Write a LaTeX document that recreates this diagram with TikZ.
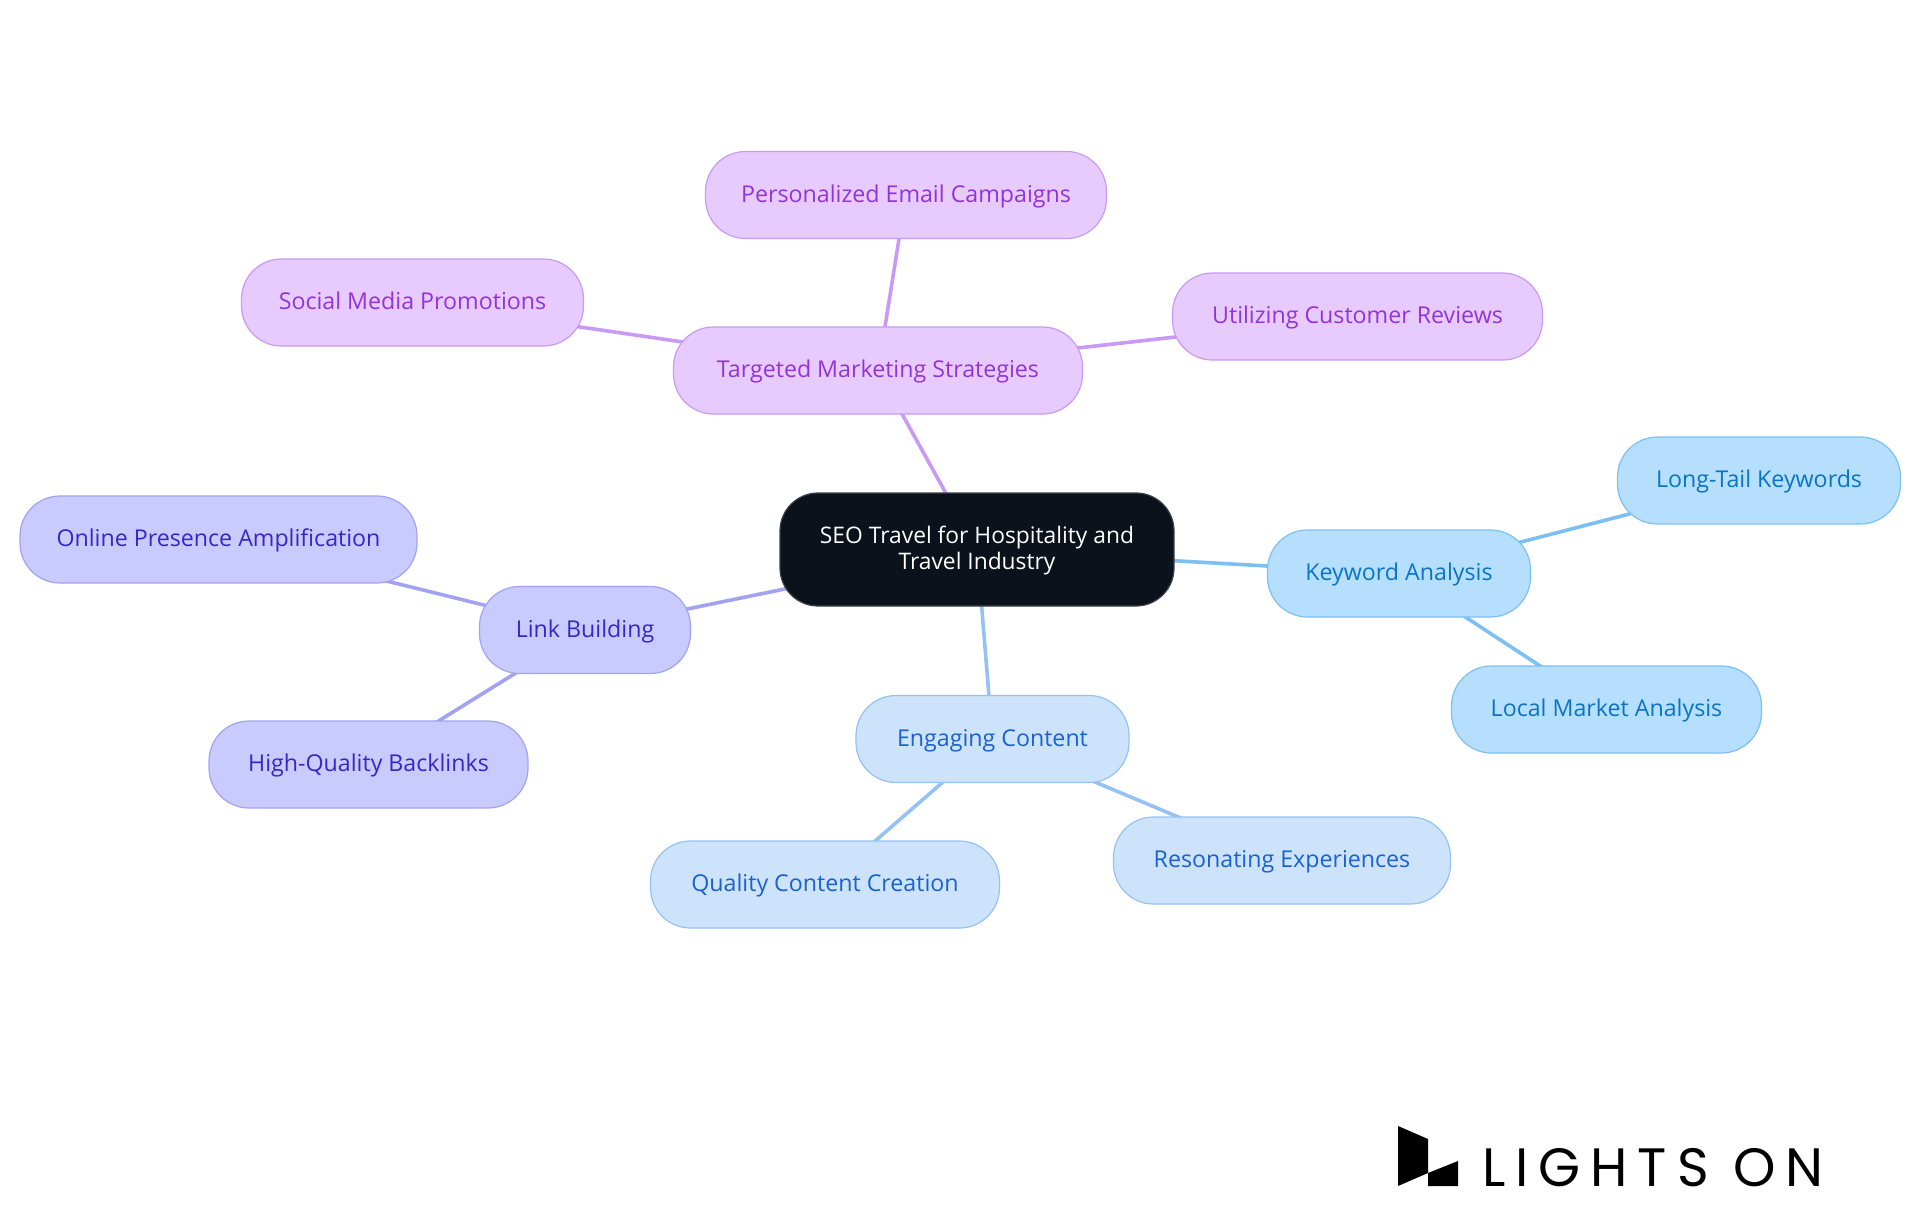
\documentclass[tikz,border=0pt]{standalone}
\usepackage{fontspec}
\setmainfont{Open Sans}
\newfontfamily\logofont[LetterSpace=18.4]{Poppins}
\usetikzlibrary{backgrounds}
\definecolor{rootfill}{HTML}{0B121B}
\definecolor{pfill}{HTML}{E7CBFE}\definecolor{pline}{HTML}{C89AF5}\definecolor{ptext}{HTML}{9333DA}
\definecolor{bfill}{HTML}{B5DFFD}\definecolor{bline}{HTML}{7CC0F3}\definecolor{btext}{HTML}{0B74C4}
\definecolor{cfill}{HTML}{CDE3FB}\definecolor{cline}{HTML}{96C2F3}\definecolor{ctext}{HTML}{1A62CE}
\definecolor{ifill}{HTML}{C9CBFE}\definecolor{iline}{HTML}{A2A2F3}\definecolor{itext}{HTML}{3A26C8}
\tikzset{x=1pt,y=-1pt,
 mm/.style={rounded corners=40pt,line width=1.2pt,font=\fontsize{23.2}{26}\selectfont,align=center,inner sep=0pt,anchor=center,text height=17pt,text depth=3pt},
 rootbox/.style={rounded corners=38pt,line width=1.2pt,font=\fontsize{22.8}{26}\selectfont,align=center,inner sep=0pt,anchor=center,fill=rootfill,draw=rootfill!80!white,text=white,minimum width=394pt,minimum height=113pt},
 pbox/.style={mm,fill=pfill,draw=pline,text=ptext,minimum height=87pt},
 bbox/.style={mm,fill=bfill,draw=bline,text=btext,minimum height=87pt},
 cbox/.style={mm,fill=cfill,draw=cline,text=ctext,minimum height=87pt},
 ibox/.style={mm,fill=ifill,draw=iline,text=itext,minimum height=87pt},
 pedge/.style={draw=pline,line width=3.6pt},
 bedge/.style={draw=bline,line width=3.6pt},
 cedge/.style={draw=cline,line width=3.6pt},
 iedge/.style={draw=iline,line width=3.6pt}}
\begin{document}
\begin{tikzpicture}
\useasboundingbox (0,0) rectangle (1920,1215);
\node[rootbox] (root) at (977,549.5) {\rule{0pt}{20pt}SEO Travel for Hospitality and\\Travel Industry};
\node[pbox,minimum width=409pt] (tm) at (878,370.5) {Targeted Marketing Strategies};
\node[pbox,minimum width=401pt] (pe) at (906,195) {Personalized Email Campaigns};
\node[pbox,minimum width=342pt] (sm) at (412.5,302.5) {Social Media Promotions};
\node[pbox,minimum width=370pt] (uc) at (1357.5,316.5) {Utilizing Customer Reviews};
\node[bbox,minimum width=263pt] (ka) at (1399,573.5) {Keyword Analysis};
\node[bbox,minimum width=283pt] (lt) at (1759,480.5) {Long-Tail Keywords};
\node[bbox,minimum width=310pt] (lm) at (1606.5,709.5) {Local Market Analysis};
\node[cbox,minimum width=273pt] (ec) at (992.5,739) {Engaging Content};
\node[cbox,minimum width=349pt] (qc) at (825,884.5) {Quality Content Creation};
\node[cbox,minimum width=337pt] (re) at (1282,860.5) {Resonating Experiences};
\node[ibox,minimum width=211pt] (lb) at (585,630) {Link Building};
\node[ibox,minimum width=397pt] (op) at (218.5,539.5) {Online Presence Amplification};
\node[ibox,minimum width=319pt] (hq) at (368.5,764.5) {High-Quality Backlinks};
\begin{scope}[on background layer]
\draw[pedge] (root.center) -- (tm.center);
\draw[pedge] (tm.center) -- (pe.center);
\draw[pedge] (tm.center) -- (sm.center);
\draw[pedge] (tm.center) -- (uc.center);
\draw[bedge] (root.center) -- (ka.center);
\draw[bedge] (ka.center) -- (lt.center);
\draw[bedge] (ka.center) -- (lm.center);
\draw[cedge] (root.center) -- (ec.center);
\draw[cedge] (ec.center) -- (qc.center);
\draw[cedge] (ec.center) -- (re.center);
\draw[iedge] (root.center) -- (lb.center);
\draw[iedge] (lb.center) -- (op.center);
\draw[iedge] (lb.center) -- (hq.center);
\end{scope}
\fill[black] (1398,1126) -- (1428,1139) -- (1428,1173) -- (1398,1186) -- cycle;
\fill[black] (1428,1173) -- (1458,1161) -- (1458,1186) -- (1428,1186) -- cycle;
\node[inner sep=0pt,anchor=base west,font=\logofont\fontsize{54}{54}\selectfont] (logo) at (1482,1186) {LIGHTS ON};
\end{tikzpicture}
\end{document}
